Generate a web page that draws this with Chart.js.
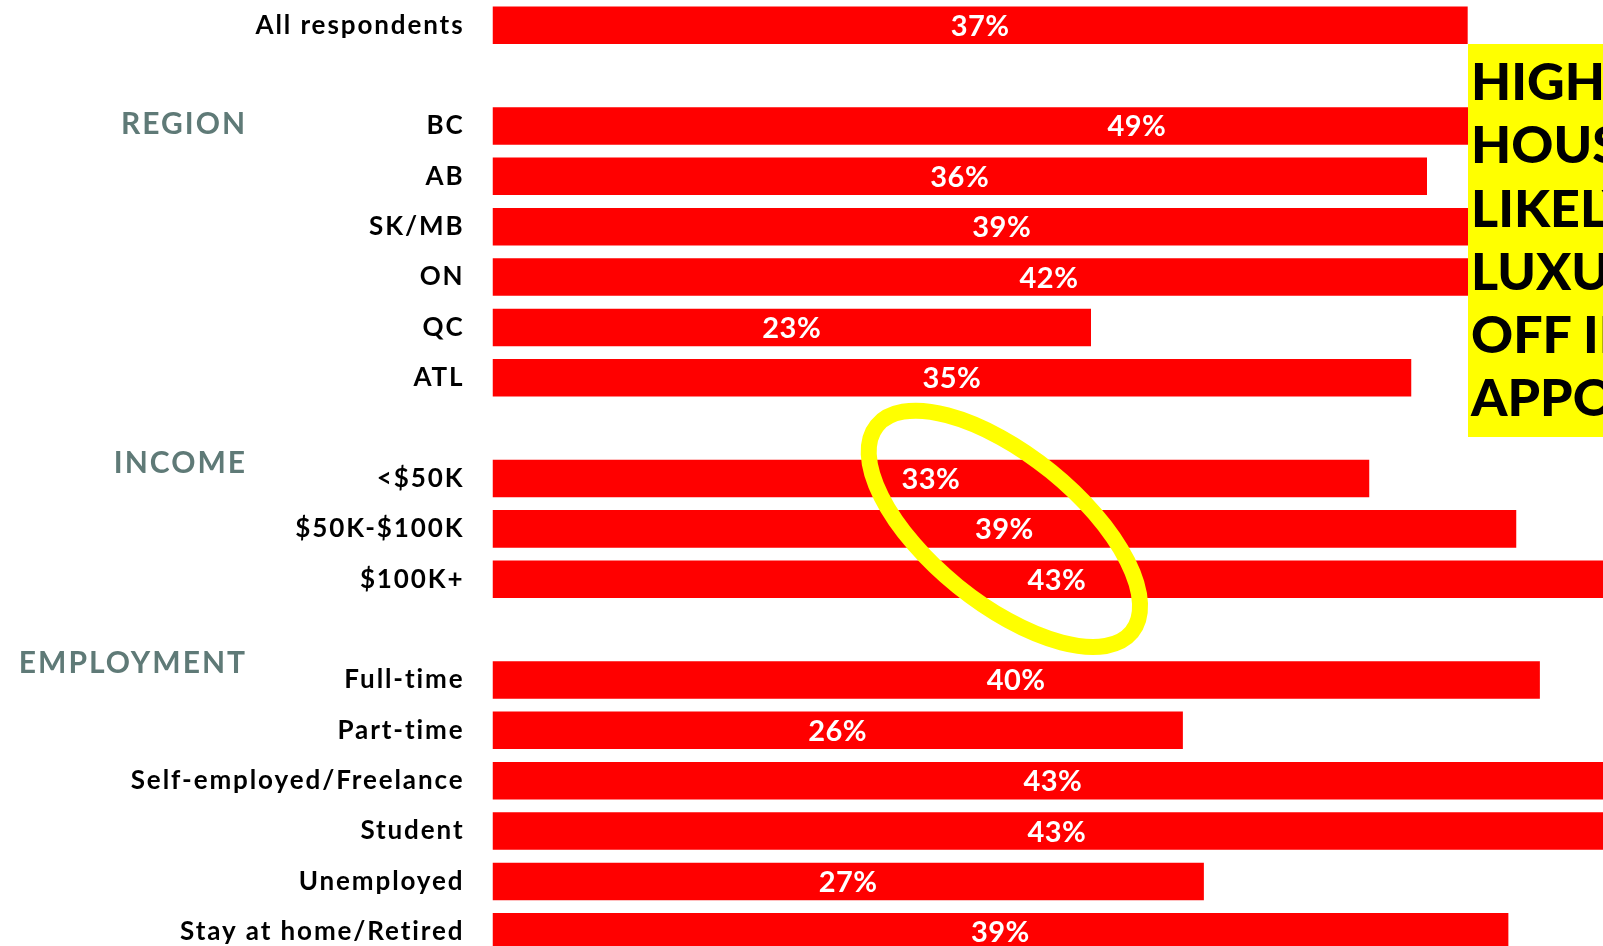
<!DOCTYPE html>
<html>
<head>
<meta charset="utf-8">
<script src="https://cdn.jsdelivr.net/npm/chart.js@4/dist/chart.umd.min.js"></script>
<style>
  html, body { margin: 0; padding: 0; background: #fff; overflow: hidden; }
  #wrap { position: relative; width: 1603px; height: 946px; overflow: hidden; }
  #chart { position: absolute; left: 0; top: 0; }
  .callout {
    position: absolute; left: 1468px; top: 44px; width: 460px; height: 393px;
    box-sizing: border-box; padding: 5px 0 0 3px;
    background: #ffff00; color: #000;
    font: 900 52px/63.3px Lato, sans-serif; white-space: nowrap;
  }
</style>
</head>
<body>
<div id="wrap">
  <canvas id="chart" width="1805" height="957"></canvas>
  <div class="callout">HIGHER-INCOME<br>HOUSEHOLDS MORE<br>LIKELY TO BUY<br>LUXURY ITEMS<br>OFF IN STORE<br>APPOINTMENTS</div>
</div>

<script>
/* global Chart */

// ---------- Data ----------

// blank strings are the spacer rows between groups
const categories = [
  'All respondents', '',
  'BC', 'AB', 'SK/MB', 'ON', 'QC', 'ATL', '',
  '<$50K', '$50K-$100K', '$100K+', '',
  'Full-time', 'Part-time', 'Self-employed/Freelance', 'Student', 'Unemployed', 'Stay at home/Retired',
];
const shares = [
  37.15, null,
  49.1, 35.6, 38.8, 42.4, 22.8, 35.0, null,
  33.4, 39.0, 43.0, null,
  39.9, 26.3, 42.7, 43.0, 27.1, 38.7,
];
const sectionTitles = ['REGION', 'INCOME', 'EMPLOYMENT'];
const sectionFirstRow = [2, 9, 13];

// ---------- Plugins ----------

const LABEL_FONT = 'Lato, sans-serif';

const letterSpacing = {
  id: 'letterSpacing',
  beforeDraw(chart) { chart.ctx.letterSpacing = '1.9px'; },
};

const barLabels = {
  id: 'barLabels',
  afterDatasetsDraw(chart) {
    const { ctx } = chart;
    const meta = chart.getDatasetMeta(0);
    ctx.save();
    ctx.letterSpacing = '0.5px';
    ctx.font = `700 29px ${LABEL_FONT}`;
    ctx.fillStyle = '#fff';
    ctx.textAlign = 'center';
    ctx.textBaseline = 'alphabetic';
    meta.data.forEach((bar, i) => {
      const v = shares[i];
      if (v === null || v === undefined) return;
      const { x, y, base } = bar.getProps(['x', 'y', 'base'], true);
      ctx.fillText(`${Math.round(v)}%`, (x + base) / 2, y + 10.5);
    });
    ctx.restore();
  },
};

const sectionHeads = {
  id: 'sectionHeads',
  afterDraw(chart) {
    const { ctx } = chart;
    const yScale = chart.scales.y;
    const nudge = [-3, -16.5, -18.3];   // headers sit a little above their first row
    ctx.save();
    ctx.letterSpacing = '2px';
    ctx.font = `700 30px ${LABEL_FONT}`;
    ctx.fillStyle = '#5f7a77';
    ctx.textAlign = 'right';
    ctx.textBaseline = 'alphabetic';
    sectionTitles.forEach((t, i) => {
      const y = yScale.getPixelForValue(sectionFirstRow[i]) + nudge[i] + 11;
      ctx.fillText(t, 247, y);
    });
    ctx.restore();
  },
};

// hand-drawn style highlight round the income labels
const highlight = {
  id: 'highlight',
  afterDraw(chart) {
    const { ctx } = chart;
    const cx = chart.scales.x.getPixelForValue(19.5);
    const cy = chart.scales.y.getPixelForValue(10);
    ctx.save();
    ctx.beginPath();
    ctx.ellipse(cx, cy, 164, 74, 39 * Math.PI / 180, 0, Math.PI * 2);
    ctx.lineWidth = 16;
    ctx.strokeStyle = '#ffff00';
    ctx.stroke();
    ctx.restore();
  },
};

// ---------- Chart ----------

new Chart(document.getElementById('chart'), {
  type: 'bar',
  data: {
    labels: categories,
    datasets: [{
      data: shares,
      backgroundColor: '#ff0000',
      borderWidth: 0,
      categoryPercentage: 1,
      barPercentage: 0.745,
    }],
  },
  options: {
    indexAxis: 'y',
    responsive: false,
    animation: false,
    events: [],
    layout: { padding: 0 },
    plugins: {
      legend: { display: false },
      tooltip: { enabled: false },
    },
    scales: {
      x: {
        display: false,
        min: 0,
        max: 50,
      },
      y: {
        grid: { display: false, drawTicks: false },
        border: { display: false },
        afterFit: (s) => {
          s.width = 492.5;
          s.paddingTop = 0;
          s.paddingBottom = 0;
        },
        ticks: {
          color: '#000',
          padding: 28,
          autoSkip: false,
          font: { family: LABEL_FONT, size: 26, weight: '700' },
        },
      },
    },
  },
  plugins: [letterSpacing, barLabels, sectionHeads, highlight],
});
</script>
</body>
</html>
